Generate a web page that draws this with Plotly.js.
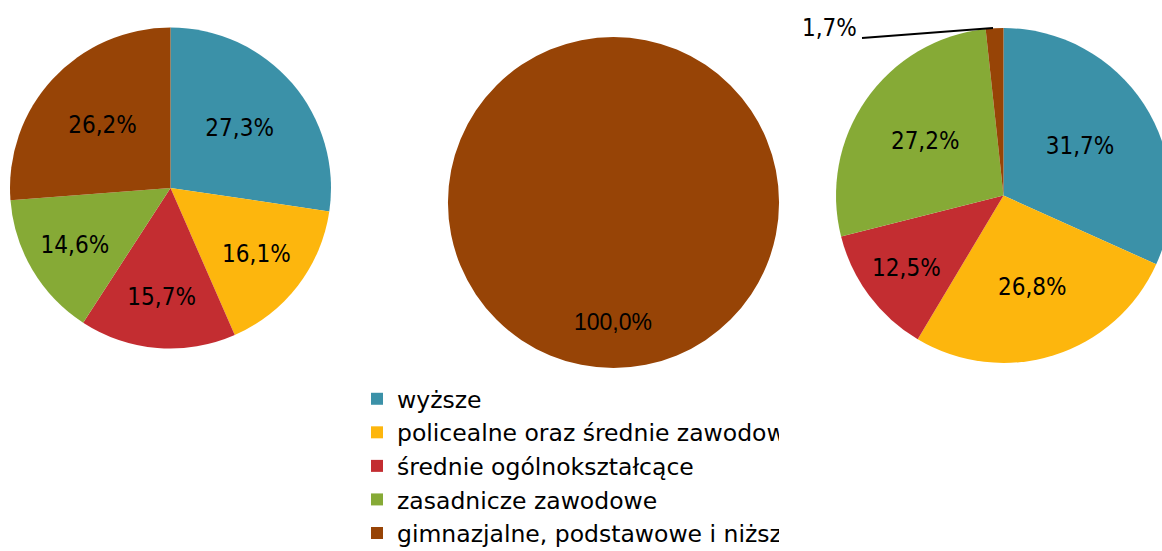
<!DOCTYPE html>
<html>
<head>
<meta charset="utf-8">
<script src="https://cdn.plot.ly/plotly-3.0.1.min.js"></script>
<style>
  html, body { margin: 0; padding: 0; overflow: hidden; background: #fff; }
  #wrap { position: relative; width: 1162px; height: 551px; overflow: hidden; }
  #chart { width: 1180px; height: 551px; }
  #cut { position: absolute; left: 779px; top: 380px; width: 400px; height: 171px; background: #fff; pointer-events: none; }
</style>
</head>
<body>
<div id="wrap">
  <div id="chart"></div>
  <div id="cut"></div>
</div>
<script>
// education levels
const labels = [
    'wyższe',
    'policealne oraz średnie zawodowe',
    'średnie ogólnokształcące',
    'zasadnicze zawodowe',
    'gimnazjalne, podstawowe i niższe'
];
const colors = ['#3b91a8', '#fdb60d', '#c32d31', '#86aa36', '#974406'];

const valuesLeft = [27.3, 16.1, 15.7, 14.6, 26.2];
const labelsMiddle = ['gimnazjalne, podstawowe i niższe'];
const valuesMiddle = [100.0];
const valuesRight = [31.7, 26.8, 12.5, 27.2, 1.7];

const W = 1180, H = 551;
const px = (a, b) => [a / W, b / W];
const py = (top, bottom) => [1 - bottom / H, 1 - top / H];
const fmt = v => v.toFixed(1).replace('.', ',') + '%';

const labelFont = {family: 'DejaVu Sans Condensed, DejaVu Sans', size: 24, color: '#000'};

const base = {
    type: 'pie',
    sort: false,
    direction: 'clockwise',
    rotation: 0,
    textposition: 'inside',
    insidetextorientation: 'horizontal',
    insidetextfont: labelFont,
    hoverinfo: 'none'
};

const left = Object.assign({}, base, {
    labels: labels,
    values: valuesLeft,
    marker: {colors: colors, line: {width: 0}},
    texttemplate: '%{value:.1f}%',
    domain: {x: px(10, 331), y: py(27, 349)}
});

// single full slice, label placed low like the original
const middle = Object.assign({}, base, {
    labels: labelsMiddle,
    values: valuesMiddle,
    marker: {colors: [colors[4]], line: {width: 0}},
    textinfo: 'none',
    domain: {x: px(448, 779), y: py(37, 368)}
});

const right = Object.assign({}, base, {
    labels: labels,
    values: valuesRight,
    marker: {colors: colors, line: {width: 0}},
    texttemplate: valuesRight.map(v => v < 5 ? '' : '%{value:.1f}%'),
    domain: {x: px(836, 1171), y: py(28, 363)}
});

const layout = {
    width: W,
    height: H,
    margin: {l: 0, r: 0, t: 0, b: 0, autoexpand: false},
    paper_bgcolor: '#fff',
    separators: ', ',
    showlegend: true,
    legend: {
        x: 357 / W, xanchor: 'left',
        y: 1 - 377 / H, yanchor: 'top',
        traceorder: 'normal',
        font: {family: 'DejaVu Sans', size: 23.5, color: '#000'},
        bgcolor: 'rgba(0,0,0,0)'
    },
    shapes: [
        // leader line for the small slice
        {type: 'line', xref: 'paper', yref: 'paper',
         x0: 862 / W, y0: 1 - 38 / H, x1: 993 / W, y1: 1 - 28 / H,
         line: {color: '#000', width: 2}}
    ],
    annotations: [
        {
            xref: 'paper', yref: 'paper',
            x: 613 / W, y: 1 - 322 / H,
            xanchor: 'center', yanchor: 'middle',
            text: fmt(valuesMiddle[0]),
            showarrow: false,
            font: {family: 'Liberation Sans, Arial', size: 23, color: '#000'}
        },
        {
            xref: 'paper', yref: 'paper',
            x: 829 / W, y: 1 - 28 / H,
            xanchor: 'center', yanchor: 'middle',
            text: fmt(valuesRight[4]),
            showarrow: false,
            font: labelFont
        }
    ]
};

Plotly.newPlot('chart', [left, middle, right], layout, {displayModeBar: false, staticPlot: true});
</script>
</body>
</html>
